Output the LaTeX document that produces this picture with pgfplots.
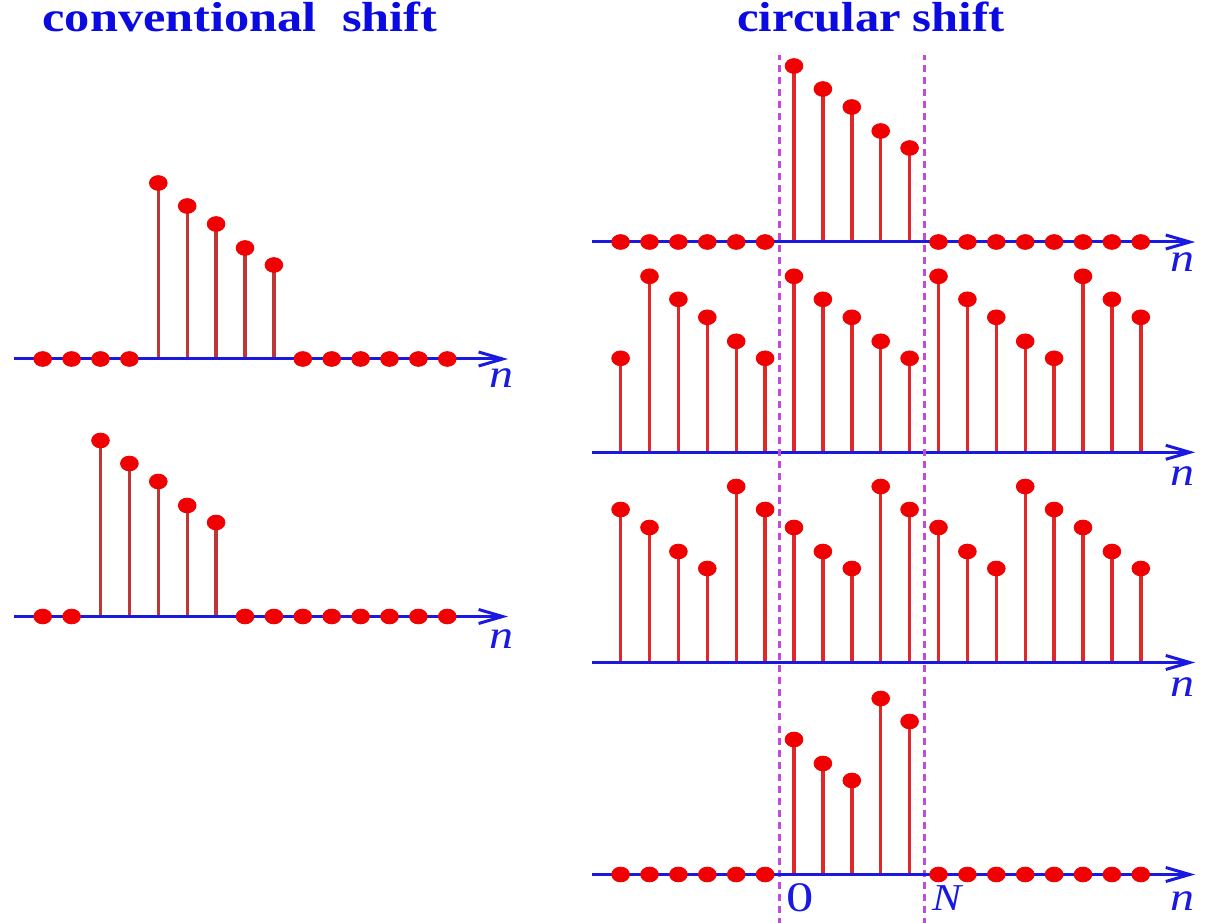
\documentclass[border=0pt]{standalone}
\usepackage{fontspec}
\setmainfont{Liberation Serif}
\usepackage{pgfplots}
\pgfplotsset{compat=1.18}
\usetikzlibrary{arrows.meta}
\definecolor{axblue}{RGB}{25,25,225}
\definecolor{ttlblue}{RGB}{10,10,225}
\definecolor{stemL}{RGB}{190,55,55}
\definecolor{stemR}{RGB}{225,40,40}
\definecolor{markR}{RGB}{240,0,0}
\definecolor{dashM}{RGB}{195,75,220}
\pgfplotsset{
 stemax/.style={x=14.45pt, y=50pt, ymin=0, ymax=2, axis x line=middle, axis y line=none,
   xtick=\empty, ytick=\empty, clip=false, axis on top, anchor=south west,
   every inner x axis line/.append style={-{Straight Barb[length=12pt,width=7pt,line width=1.5pt]}},
   x axis line style={line width=1.5pt, draw=axblue, -{Straight Barb[length=12pt,width=7pt,line width=1.5pt]}}},
 stem/.style={ycomb, draw=#1, line width=1.7pt, mark=*, mark size=3.7pt,
   mark options={fill=markR, draw=markR, line width=0.4pt, xscale=1.2}},
}
\tikzset{nlab/.style={anchor=base, text=axblue, font=\fontsize{20}{24}\selectfont\itshape}}
\begin{document}
\begin{tikzpicture}
\useasboundingbox (0,0) rectangle (603pt,461pt);
\node[anchor=base, text=ttlblue, font=\fontsize{21}{25}\selectfont\bfseries] at (120pt,445pt) {\scalebox{1.2}[1]{conventional\ \ shift}};
\node[anchor=base, text=ttlblue, font=\fontsize{21}{25}\selectfont\bfseries] at (435.5pt,445pt) {\scalebox{1.155}[1]{circular shift}};
% conventional 1
\begin{axis}[stemax, at={(6.9pt,281.5pt)}, xmin=-5, xmax=12.1]
\addplot[stem=stemL] coordinates {(-4,0) (-3,0) (-2,0) (-1,0) (0,1.76) (1,1.53) (2,1.35) (3,1.11) (4,0.94) (5,0) (6,0) (7,0) (8,0) (9,0) (10,0)};
\node[nlab] at (axis cs:11.89,-0.29) {\scalebox{1.2}[1]{n}};
\end{axis}
% conventional 2
\begin{axis}[stemax, at={(6.9pt,152.75pt)}, xmin=-5, xmax=12.1]
\addplot[stem=stemL] coordinates {(-4,0) (-3,0) (-2,1.76) (-1,1.53) (0,1.35) (1,1.11) (2,0.94) (3,0) (4,0) (5,0) (6,0) (7,0) (8,0) (9,0) (10,0)};
\node[nlab] at (axis cs:11.89,-0.325) {\scalebox{1.2}[1]{n}};
\end{axis}
% circular 1
\begin{axis}[stemax, at={(295.85pt,340pt)}, xmin=-7, xmax=13.88]
\addplot[stem=stemR] coordinates {(-6,0) (-5,0) (-4,0) (-3,0) (-2,0) (-1,0) (0,1.76) (1,1.53) (2,1.35) (3,1.11) (4,0.94) (5,0) (6,0) (7,0) (8,0) (9,0) (10,0) (11,0) (12,0)};
\node[nlab] at (axis cs:13.43,-0.30) {\scalebox{1.2}[1]{n}};
\end{axis}
% circular 2
\begin{axis}[stemax, at={(295.85pt,234.85pt)}, xmin=-7, xmax=13.88]
\addplot[stem=stemR] coordinates {(-6,0.94) (-5,1.76) (-4,1.53) (-3,1.35) (-2,1.11) (-1,0.94) (0,1.76) (1,1.53) (2,1.35) (3,1.11) (4,0.94) (5,1.76) (6,1.53) (7,1.35) (8,1.11) (9,0.94) (10,1.76) (11,1.53) (12,1.35)};
\node[nlab] at (axis cs:13.43,-0.33) {\scalebox{1.2}[1]{n}};
\end{axis}
% circular 3
\begin{axis}[stemax, at={(295.85pt,129.75pt)}, xmin=-7, xmax=13.88]
\addplot[stem=stemR] coordinates {(-6,1.53) (-5,1.35) (-4,1.11) (-3,0.94) (-2,1.76) (-1,1.53) (0,1.35) (1,1.11) (2,0.94) (3,1.76) (4,1.53) (5,1.35) (6,1.11) (7,0.94) (8,1.76) (9,1.53) (10,1.35) (11,1.11) (12,0.94)};
\node[nlab] at (axis cs:13.43,-0.345) {\scalebox{1.2}[1]{n}};
\end{axis}
% circular 4
\begin{axis}[stemax, at={(295.85pt,23.75pt)}, xmin=-7, xmax=13.88]
\addplot[stem=stemR] coordinates {(-6,0) (-5,0) (-4,0) (-3,0) (-2,0) (-1,0) (0,1.35) (1,1.11) (2,0.94) (3,1.76) (4,1.53) (5,0) (6,0) (7,0) (8,0) (9,0) (10,0) (11,0) (12,0)};
\addplot[dashM, line width=1.5pt, dash pattern=on 3.5pt off 2.5pt] coordinates {(-0.5,-0.5) (-0.5,8.195)};
\addplot[dashM, line width=1.5pt, dash pattern=on 3.5pt off 2.5pt] coordinates {(4.5,-0.5) (4.5,8.195)};
\node[nlab] at (axis cs:13.43,-0.355) {\scalebox{1.2}[1]{n}};
\node[anchor=center, text=axblue, font=\fontsize{21}{24}\selectfont] at (axis cs:0.21,-0.235) {\scalebox{1.3}[1]{0}};
\node[anchor=center, text=axblue, font=\fontsize{19}{22}\selectfont\itshape] at (axis cs:5.3,-0.235) {\scalebox{1.15}[1]{N}};
\end{axis}
\end{tikzpicture}
\end{document}
